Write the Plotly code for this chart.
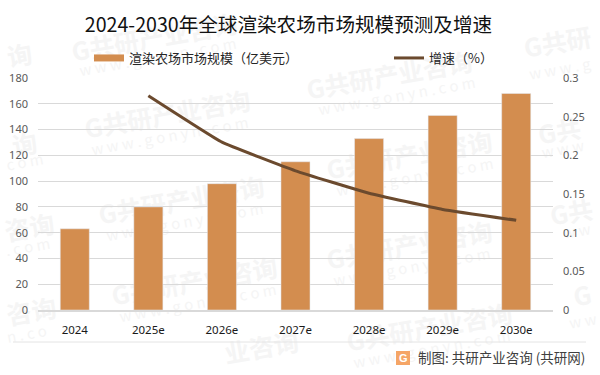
import plotly.graph_objects as go

categories = ["2024", "2025e", "2026e", "2027e", "2028e", "2029e", "2030e"]
market_size = [63, 80, 98, 115, 133, 151, 168]
growth = [None, 0.277, 0.217, 0.18, 0.151, 0.13, 0.116]
bar_name = "渲染农场市场规模（亿美元）"
line_name = "增速（%）"
title_text = "2024-2030年全球渲染农场市场规模预测及增速"
credit_text = "制图: 共研产业咨询 (共研网)"
WM_CN = "G共研产业咨询"
WM_EN = "w w w . g o n y n . c o m"

W, H = 600, 375
L, R, T, B = 38, 47, 78, 65

# watermark tiles in the page background (text, centre x, centre y in pixels)
wm_main = [(WM_CN, 155, 40), (WM_CN, 168, 117), (WM_CN, 390, 78), (WM_CN, 410, 158),
           (WM_CN, 182, 203), (WM_CN, 195, 284), (WM_CN, 410, 248), (WM_CN, 430, 330),
           ("询", 20, 58), ("询", 25, 147), ("咨询", 30, 230), ("咨询", 32, 314),
           ("业咨询", 262, 350), ("G共研", 558, 45), ("G共", 560, 134), ("G共", 572, 215), ("G", 583, 298)]
wm_sub = [(WM_EN, 158, 58), (WM_EN, 170, 137), (WM_EN, 397, 97), (WM_EN, 415, 178),
          (WM_EN, 185, 223), (WM_EN, 198, 304), (WM_EN, 412, 268), (WM_EN, 432, 350),
          ("c o m", 25, 163), (". c o m", 28, 248), ("n . c o", 27, 335),
          ("w w w . g", 560, 70), ("w w w", 563, 150), ("w w", 577, 232), ("w w", 583, 322)]


def paper_x(px):
    return (px - L) / (W - L - R)


def paper_y(py):
    return 1 - (py - T) / (H - T - B)


def wm_shape(cx, cy, size, label_text):
    return dict(type="rect", layer="below", xref="paper", yref="paper",
                x0=paper_x(cx - 5), x1=paper_x(cx + 5), y0=paper_y(cy + 5), y1=paper_y(cy - 5),
                line=dict(width=0), fillcolor="rgba(0,0,0,0)",
                label=dict(text=label_text, textangle=-10, textposition="middle center",
                           font=dict(size=size, color="#F5F5F5", family="Noto Sans CJK SC")))


shapes = []
for text, cx, cy in wm_main:
    shapes.append(wm_shape(cx, cy, 25, "<b>" + text + "</b>"))
for text, cx, cy in wm_sub:
    shapes.append(wm_shape(cx, cy, 15, text))
shapes += [
    dict(type="line", xref="paper", yref="paper", x0=paper_x(13), x1=paper_x(586),
         y0=paper_y(342), y1=paper_y(342), line=dict(color="#E4E4E4", width=1)),
    dict(type="rect", xref="paper", yref="paper", x0=paper_x(396), x1=paper_x(410),
         y0=paper_y(351), y1=paper_y(365), fillcolor="#F5A566", line=dict(width=0)),
]

fig = go.Figure()
fig.add_trace(go.Bar(x=categories, y=market_size, name=bar_name, marker_color="#D38D4F",
                     width=0.395, yaxis="y", showlegend=False))
# legend key drawn as a wide flat swatch like the reference
fig.add_trace(go.Scatter(x=[categories[0]], y=[None], name=bar_name, mode="lines", yaxis="y",
                         line=dict(color="#D38D4F", width=7), legend="legend"))
fig.add_trace(go.Scatter(x=categories, y=growth, name=line_name, mode="lines", yaxis="y2",
                         line=dict(color="#6B4A2E", width=3, shape="spline", smoothing=0.3),
                         connectgaps=False, legend="legend2"))

annotations = [
    dict(text=credit_text, x=paper_x(587), y=paper_y(357), xref="paper", yref="paper",
         showarrow=False, xanchor="right", yanchor="middle",
         font=dict(size=13.5, color="#404040", family="Noto Sans CJK SC")),
    dict(text="<b>G</b>", x=paper_x(403), y=paper_y(358), xref="paper", yref="paper",
         showarrow=False, xanchor="center", yanchor="middle",
         font=dict(size=11, color="white", family="Liberation Sans")),
]

legend_font = dict(size=13, color="#262626")
axis_font = dict(size=11, color="#595959", family="Noto Sans")
fig.update_layout(
    width=W, height=H,
    autosize=False,
    margin=dict(l=L, r=R, t=T, b=B),
    paper_bgcolor="white", plot_bgcolor="rgba(0,0,0,0)",
    font=dict(family="Noto Sans CJK SC, Noto Sans", color="#595959"),
    title=dict(text=title_text, x=288.5 / W, xanchor="center", y=1 - 25 / H, yanchor="middle",
               font=dict(size=19.6, color="#111111", family="Noto Sans CJK SC")),
    showlegend=True,
    legend=dict(orientation="h", x=paper_x(89), y=paper_y(58), xanchor="left", yanchor="middle",
                itemwidth=30, font=legend_font, bgcolor="rgba(0,0,0,0)"),
    legend2=dict(orientation="h", x=paper_x(389), y=paper_y(58), xanchor="left", yanchor="middle",
                 itemwidth=30, font=legend_font, bgcolor="rgba(0,0,0,0)"),
    bargap=0.6,
    xaxis=dict(type="category", categoryorder="array", categoryarray=categories, automargin=False,
               showgrid=False, showline=True, linecolor="#D9D9D9", linewidth=1.5, ticks="",
               tickfont=dict(size=11.5, color="#1A1A1A", family="Noto Sans"), ticklabelstandoff=8),
    yaxis=dict(range=[0, 180], dtick=20, showgrid=True, gridcolor="#D9D9D9", gridwidth=1.2, automargin=False,
               zeroline=False, tickfont=axis_font, ticks="", ticklabelstandoff=9),
    yaxis2=dict(range=[0, 0.3], dtick=0.05, overlaying="y", side="right", showgrid=False, automargin=False,
                zeroline=False, tickfont=axis_font, ticks="", ticklabelstandoff=9,
                tickformat="~g"),
    annotations=annotations,
    shapes=shapes,
)
fig.write_html("out.html", config={"displayModeBar": False},
               post_script="document.body.style.margin='0';document.body.style.overflow='hidden';")
